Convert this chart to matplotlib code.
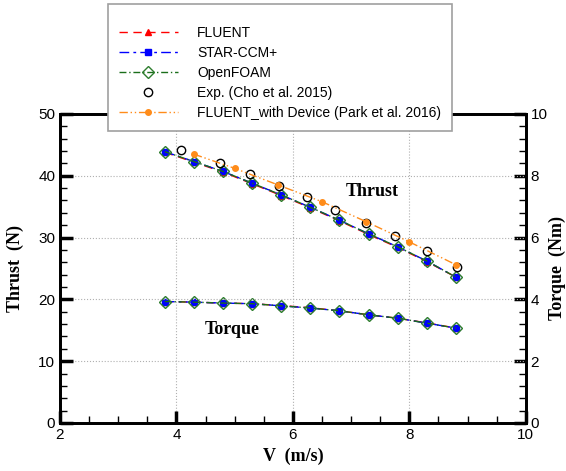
import numpy as np
import matplotlib
matplotlib.use("Agg")
import matplotlib.pyplot as plt
from matplotlib.ticker import MultipleLocator

# -----------------------------
# Data
# -----------------------------
v_cfd = [3.8, 4.3, 4.8, 5.3, 5.8, 6.3, 6.8, 7.3, 7.8, 8.3, 8.8]

thrust_fluent = [43.8, 42.2, 40.6, 38.7, 36.8, 34.8, 32.7, 30.5, 28.4, 26.1, 23.6]
thrust_star = [43.9, 42.3, 40.7, 38.8, 36.9, 34.9, 32.8, 30.6, 28.5, 26.2, 23.6]
thrust_foam = [43.9, 42.3, 40.7, 38.8, 36.9, 34.9, 32.8, 30.6, 28.5, 26.2, 23.6]

torque_fluent = [3.93, 3.91, 3.88, 3.86, 3.80, 3.73, 3.63, 3.50, 3.39, 3.24, 3.07]
torque_star = [3.93, 3.91, 3.88, 3.86, 3.79, 3.72, 3.63, 3.50, 3.39, 3.23, 3.07]
torque_foam = [3.93, 3.91, 3.88, 3.86, 3.79, 3.72, 3.63, 3.50, 3.39, 3.23, 3.07]

v_exp = [4.07, 4.75, 5.26, 5.76, 6.25, 6.72, 7.26, 7.76, 8.3, 8.81]
thrust_exp = [44.2, 42.0, 40.3, 38.4, 36.6, 34.5, 32.4, 30.2, 27.9, 25.3]

v_dev = [4.3, 5.0, 5.75, 6.5, 7.25, 8.0, 8.8]
thrust_dev = [43.5, 41.2, 38.5, 35.8, 32.6, 29.3, 25.6]

# -----------------------------
# Figure
# -----------------------------
plt.rcParams['font.family'] = ['Liberation Sans', 'DejaVu Sans']
fig = plt.figure(figsize=(5.66, 4.71), dpi=100)
ax = fig.add_axes([0.106, 0.102, 0.823, 0.656])
ax2 = ax.twinx()

ax.plot(v_cfd, thrust_fluent, color='red', ls=(0, (6, 4)), lw=1,
        marker='^', ms=4, label='FLUENT')
ax.plot(v_cfd, thrust_star, color='blue', ls=(0, (7, 3, 2, 3)), lw=1,
        marker='s', ms=4, label='STAR-CCM+')
ax.plot(v_cfd, thrust_foam, color='#1a6e1a', ls=(0, (5, 2, 1, 2)), lw=1,
        marker='D', ms=6, mfc='none', mec='#2e7d2e', mew=1, label='OpenFOAM')
ax.plot(v_exp, thrust_exp, ls='none', marker='o', ms=6, mfc='none',
        mec='black', mew=1, label='Exp. (Cho et al. 2015)')
ax.plot(v_dev, thrust_dev, color='#ff8c1a', ls=(0, (6, 2, 1, 2, 1, 2)), lw=1,
        marker='o', ms=4, label='FLUENT_with Device (Park et al. 2016)')

ax2.plot(v_cfd, torque_fluent, color='red', ls=(0, (6, 4)), lw=1,
         marker='^', ms=4)
ax2.plot(v_cfd, torque_star, color='blue', ls=(0, (7, 3, 2, 3)), lw=1,
         marker='s', ms=4)
ax2.plot(v_cfd, torque_foam, color='#1a6e1a', ls=(0, (5, 2, 1, 2)), lw=1,
         marker='D', ms=6, mfc='none', mec='#2e7d2e', mew=1)

# -----------------------------
# Axes styling
# -----------------------------
ax.set_xlim(2, 10)
ax.set_ylim(0, 50)
ax2.set_ylim(0, 10)

ax.xaxis.set_major_locator(MultipleLocator(2))
ax.xaxis.set_minor_locator(MultipleLocator(0.5))
ax.yaxis.set_major_locator(MultipleLocator(10))
ax.yaxis.set_minor_locator(MultipleLocator(2))
ax2.yaxis.set_major_locator(MultipleLocator(2))
ax2.yaxis.set_minor_locator(MultipleLocator(0.4))

ax.grid(True, which='major', ls=':', color='#b0b0b0', lw=0.8)
ax.set_axisbelow(True)

for a in (ax, ax2):
    for s in a.spines.values():
        s.set_linewidth(2)
ax.tick_params(axis='x', which='major', direction='in', length=9, width=2.5,
               labelsize=11, top=False)
ax.tick_params(axis='x', which='minor', direction='in', length=5, width=1,
               top=False)
ax.tick_params(axis='y', which='major', direction='in', length=9, width=2.5,
               labelsize=11, left=True, right=False)
ax.tick_params(axis='y', which='minor', direction='in', length=5, width=1,
               left=True, right=False)
ax2.tick_params(axis='y', which='major', direction='in', length=9, width=2.5,
                labelsize=11, left=False, right=True)
ax2.tick_params(axis='y', which='minor', direction='in', length=5, width=1,
                left=False, right=True)

serif = {'family': 'Liberation Serif', 'weight': 'bold', 'size': 13}
ax.set_xlabel('V  (m/s)', fontdict=serif, labelpad=4)
ax.set_ylabel('Thrust  (N)', fontdict=serif, labelpad=10)
ax2.set_ylabel('Torque  (Nm)', fontdict=serif, labelpad=1)

ax.text(7.36, 37.4, 'Thrust', ha='center', va='center', fontdict=serif)
ax.text(4.95, 15.2, 'Torque', ha='center', va='center', fontdict=serif)

leg = ax.legend(loc='upper left', bbox_to_anchor=(0.191, 0.991),
                bbox_transform=fig.transFigure, fontsize=10,
                handlelength=4.2, handletextpad=1.4, labelspacing=0.42,
                borderpad=0.8, borderaxespad=0, fancybox=False,
                framealpha=1, edgecolor='#a0a0a0',
                title=' ', title_fontsize=4)
leg.get_frame().set_linewidth(1.2)
leg.set_zorder(10)
ax.set_zorder(ax2.get_zorder() + 1)
ax.patch.set_visible(False)

fig.savefig('out.png', dpi=100)
